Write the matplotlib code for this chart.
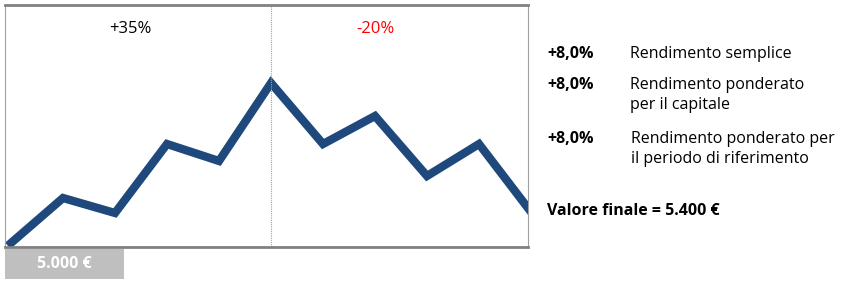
import matplotlib
matplotlib.use("Agg")
import matplotlib.pyplot as plt
from matplotlib.patches import Rectangle

plt.rcParams['font.family'] = ['Open Sans', 'DejaVu Sans']

periods = list(range(11))
values = [3, 48, 33, 102, 85, 163, 102, 130, 70, 102, 34]
split_index = 5
left_label = "+35%"
right_label = "-20%"
start_label = "5.000 €"
returns = ["+8,0%", "+8,0%", "+8,0%"]
return_names = [["Rendimento semplice"],
                ["Rendimento ponderato", "per il capitale"],
                ["Rendimento ponderato per", "il periodo di riferimento"]]
final_label = "Valore finale = 5.400 €"

W, H = 847, 285
fig = plt.figure(figsize=(W / 100, H / 100), dpi=100)
ax = fig.add_axes([5 / W, (H - 247) / H, (528 - 5) / W, (247 - 5) / H])
ax.plot(periods, values, color='#1f497d', lw=6.0, solid_joinstyle='miter',
        solid_capstyle='projecting', clip_on=True)
ax.set_xlim(-6 / 52, 517 / 52)
ax.set_ylim(-1, 241)
ax.set_xticks([])
ax.set_yticks([])
for s in ['top', 'bottom']:
    ax.spines[s].set_color('#808080')
    ax.spines[s].set_linewidth(2.0)
    ax.spines[s].set_zorder(3)
for s in ['left', 'right']:
    ax.spines[s].set_color('#a0a0a0')
    ax.spines[s].set_linewidth(0.8)
    ax.spines[s].set_linestyle((0, (1, 1)))
ax.axvline(split_index, color='#a0a0a0', lw=0.8, ls=(0, (1, 1)))

ax.text(2.29, (247 - 29) / 242, left_label, transform=ax.get_xaxis_transform(),
        ha='center', va='center', fontsize=12, color='#000000')
ax.text(7.0, (247 - 29) / 242, right_label, transform=ax.get_xaxis_transform(),
        ha='center', va='center', fontsize=12, color='#ff0000')

# start value box
fig.patches.append(Rectangle((5 / W, (H - 279) / H), (124 - 5) / W, 30 / H,
                             transform=fig.transFigure, facecolor='#bfbfbf',
                             edgecolor='none'))
fig.text(64 / W, (H - 264) / H, start_label, ha='center', va='center',
         fontsize=11.5, fontweight='bold', color='white')

baselines = [[58], [89, 109], [143, 163]]
name_x = [630, 630, 631]
for r, lines, bl, nx in zip(returns, return_names, baselines, name_x):
    fig.text(547 / W, (H - bl[0]) / H, r, ha='left', va='baseline',
             fontsize=11.5, fontweight='bold', color='#000000')
    for line, b in zip(lines, bl):
        fig.text(nx / W, (H - b) / H, line, ha='left', va='baseline',
                 fontsize=11.5, color='#000000')
fig.text(547 / W, (H - 215) / H, final_label, ha='left', va='baseline',
         fontsize=11.5, fontweight='bold', color='#000000')

fig.savefig('out.png', dpi=100)
